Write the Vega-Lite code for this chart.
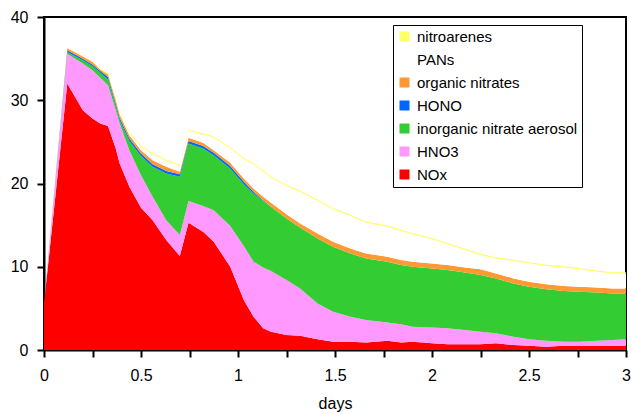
{
"$schema": "https://vega.github.io/schema/vega-lite/v6.json",
"width": 582, "height": 333,
"autosize": {"type": "none"},
"padding": {"left": 44, "top": 17, "right": 5, "bottom": 64},
"config": {"view": {"stroke": "black", "strokeWidth": 2}, "font": "Liberation Sans"},
"data": {"values": [
{"d":0,"s":"NOx","v":5.6},{"d":0,"s":"HNO3","v":0},{"d":0,"s":"inorganic nitrate aerosol","v":0},{"d":0,"s":"HONO","v":0},{"d":0,"s":"organic nitrates","v":0},{"d":0,"s":"PANs","v":0},{"d":0,"s":"nitroarenes","v":0},
{"d":0.12,"s":"NOx","v":32.0},{"d":0.12,"s":"HNO3","v":3.6},{"d":0.12,"s":"inorganic nitrate aerosol","v":0.2},{"d":0.12,"s":"HONO","v":0.2},{"d":0.12,"s":"organic nitrates","v":0.25},{"d":0.12,"s":"PANs","v":0},{"d":0.12,"s":"nitroarenes","v":0.05},
{"d":0.2,"s":"NOx","v":28.8},{"d":0.2,"s":"HNO3","v":5.6},{"d":0.2,"s":"inorganic nitrate aerosol","v":0.4},{"d":0.2,"s":"HONO","v":0.2},{"d":0.2,"s":"organic nitrates","v":0.25},{"d":0.2,"s":"PANs","v":0},{"d":0.2,"s":"nitroarenes","v":0.05},
{"d":0.25,"s":"NOx","v":27.8},{"d":0.25,"s":"HNO3","v":5.8},{"d":0.25,"s":"inorganic nitrate aerosol","v":0.5},{"d":0.25,"s":"HONO","v":0.2},{"d":0.25,"s":"organic nitrates","v":0.3},{"d":0.25,"s":"PANs","v":0},{"d":0.25,"s":"nitroarenes","v":0.05},
{"d":0.29,"s":"NOx","v":27.2},{"d":0.29,"s":"HNO3","v":5.5},{"d":0.29,"s":"inorganic nitrate aerosol","v":0.6},{"d":0.29,"s":"HONO","v":0.2},{"d":0.29,"s":"organic nitrates","v":0.2},{"d":0.29,"s":"PANs","v":0},{"d":0.29,"s":"nitroarenes","v":0.1},
{"d":0.33,"s":"NOx","v":26.9},{"d":0.33,"s":"HNO3","v":4.9},{"d":0.33,"s":"inorganic nitrate aerosol","v":0.7},{"d":0.33,"s":"HONO","v":0.3},{"d":0.33,"s":"organic nitrates","v":0.3},{"d":0.33,"s":"PANs","v":0},{"d":0.33,"s":"nitroarenes","v":0.15},
{"d":0.37,"s":"NOx","v":24.2},{"d":0.37,"s":"HNO3","v":4.6},{"d":0.37,"s":"inorganic nitrate aerosol","v":0.5},{"d":0.37,"s":"HONO","v":0.3},{"d":0.37,"s":"organic nitrates","v":0.4},{"d":0.37,"s":"PANs","v":0},{"d":0.37,"s":"nitroarenes","v":0.15},
{"d":0.39,"s":"NOx","v":22.4},{"d":0.39,"s":"HNO3","v":4.8},{"d":0.39,"s":"inorganic nitrate aerosol","v":0.4},{"d":0.39,"s":"HONO","v":0.3},{"d":0.39,"s":"organic nitrates","v":0.4},{"d":0.39,"s":"PANs","v":0.1},{"d":0.39,"s":"nitroarenes","v":0.15},
{"d":0.44,"s":"NOx","v":19.6},{"d":0.44,"s":"HNO3","v":4.4},{"d":0.44,"s":"inorganic nitrate aerosol","v":1.1},{"d":0.44,"s":"HONO","v":0.3},{"d":0.44,"s":"organic nitrates","v":0.4},{"d":0.44,"s":"PANs","v":0.2},{"d":0.44,"s":"nitroarenes","v":0.15},
{"d":0.5,"s":"NOx","v":17.1},{"d":0.5,"s":"HNO3","v":3.9},{"d":0.5,"s":"inorganic nitrate aerosol","v":2.3},{"d":0.5,"s":"HONO","v":0.3},{"d":0.5,"s":"organic nitrates","v":0.4},{"d":0.5,"s":"PANs","v":0.4},{"d":0.5,"s":"nitroarenes","v":0.15},
{"d":0.56,"s":"NOx","v":15.6},{"d":0.56,"s":"HNO3","v":2.8},{"d":0.56,"s":"inorganic nitrate aerosol","v":3.6},{"d":0.56,"s":"HONO","v":0.3},{"d":0.56,"s":"organic nitrates","v":0.5},{"d":0.56,"s":"PANs","v":0.7},{"d":0.56,"s":"nitroarenes","v":0.15},
{"d":0.63,"s":"NOx","v":13.2},{"d":0.63,"s":"HNO3","v":2.4},{"d":0.63,"s":"inorganic nitrate aerosol","v":5.6},{"d":0.63,"s":"HONO","v":0.3},{"d":0.63,"s":"organic nitrates","v":0.5},{"d":0.63,"s":"PANs","v":0.7},{"d":0.63,"s":"nitroarenes","v":0.15},
{"d":0.7,"s":"NOx","v":11.3},{"d":0.7,"s":"HNO3","v":2.5},{"d":0.7,"s":"inorganic nitrate aerosol","v":7.0},{"d":0.7,"s":"HONO","v":0.3},{"d":0.7,"s":"organic nitrates","v":0.3},{"d":0.7,"s":"PANs","v":0.7},{"d":0.7,"s":"nitroarenes","v":0.15},
{"d":0.745,"s":"NOx","v":15.3},{"d":0.745,"s":"HNO3","v":2.6},{"d":0.745,"s":"inorganic nitrate aerosol","v":6.9},{"d":0.745,"s":"HONO","v":0.3},{"d":0.745,"s":"organic nitrates","v":0.4},{"d":0.745,"s":"PANs","v":0.8},{"d":0.745,"s":"nitroarenes","v":0.15},
{"d":0.82,"s":"NOx","v":14.2},{"d":0.82,"s":"HNO3","v":3.1},{"d":0.82,"s":"inorganic nitrate aerosol","v":6.9},{"d":0.82,"s":"HONO","v":0.3},{"d":0.82,"s":"organic nitrates","v":0.4},{"d":0.82,"s":"PANs","v":1.0},{"d":0.82,"s":"nitroarenes","v":0.15},
{"d":0.875,"s":"NOx","v":13.0},{"d":0.875,"s":"HNO3","v":3.8},{"d":0.875,"s":"inorganic nitrate aerosol","v":6.6},{"d":0.875,"s":"HONO","v":0.3},{"d":0.875,"s":"organic nitrates","v":0.3},{"d":0.875,"s":"PANs","v":1.5},{"d":0.875,"s":"nitroarenes","v":0.15},
{"d":0.96,"s":"NOx","v":10.0},{"d":0.96,"s":"HNO3","v":4.9},{"d":0.96,"s":"inorganic nitrate aerosol","v":6.9},{"d":0.96,"s":"HONO","v":0.3},{"d":0.96,"s":"organic nitrates","v":0.4},{"d":0.96,"s":"PANs","v":1.7},{"d":0.96,"s":"nitroarenes","v":0.15},
{"d":1.03,"s":"NOx","v":6.0},{"d":1.03,"s":"HNO3","v":6.5},{"d":1.03,"s":"inorganic nitrate aerosol","v":7.4},{"d":1.03,"s":"HONO","v":0.3},{"d":1.03,"s":"organic nitrates","v":0.4},{"d":1.03,"s":"PANs","v":2.3},{"d":1.03,"s":"nitroarenes","v":0.15},
{"d":1.08,"s":"NOx","v":4.0},{"d":1.08,"s":"HNO3","v":6.6},{"d":1.08,"s":"inorganic nitrate aerosol","v":8.2},{"d":1.08,"s":"HONO","v":0.2},{"d":1.08,"s":"organic nitrates","v":0.4},{"d":1.08,"s":"PANs","v":2.9},{"d":1.08,"s":"nitroarenes","v":0.15},
{"d":1.13,"s":"NOx","v":2.6},{"d":1.13,"s":"HNO3","v":7.3},{"d":1.13,"s":"inorganic nitrate aerosol","v":8.0},{"d":1.13,"s":"HONO","v":0.1},{"d":1.13,"s":"organic nitrates","v":0.4},{"d":1.13,"s":"PANs","v":3.0},{"d":1.13,"s":"nitroarenes","v":0.15},
{"d":1.17,"s":"NOx","v":2.2},{"d":1.17,"s":"HNO3","v":7.3},{"d":1.17,"s":"inorganic nitrate aerosol","v":7.7},{"d":1.17,"s":"HONO","v":0},{"d":1.17,"s":"organic nitrates","v":0.5},{"d":1.17,"s":"PANs","v":3.0},{"d":1.17,"s":"nitroarenes","v":0.15},
{"d":1.25,"s":"NOx","v":1.8},{"d":1.25,"s":"HNO3","v":6.6},{"d":1.25,"s":"inorganic nitrate aerosol","v":7.4},{"d":1.25,"s":"HONO","v":0},{"d":1.25,"s":"organic nitrates","v":0.5},{"d":1.25,"s":"PANs","v":3.4},{"d":1.25,"s":"nitroarenes","v":0.15},
{"d":1.32,"s":"NOx","v":1.7},{"d":1.32,"s":"HNO3","v":5.7},{"d":1.32,"s":"inorganic nitrate aerosol","v":7.3},{"d":1.32,"s":"HONO","v":0},{"d":1.32,"s":"organic nitrates","v":0.5},{"d":1.32,"s":"PANs","v":3.8},{"d":1.32,"s":"nitroarenes","v":0.15},
{"d":1.41,"s":"NOx","v":1.3},{"d":1.41,"s":"HNO3","v":4.3},{"d":1.41,"s":"inorganic nitrate aerosol","v":7.8},{"d":1.41,"s":"HONO","v":0},{"d":1.41,"s":"organic nitrates","v":0.6},{"d":1.41,"s":"PANs","v":3.9},{"d":1.41,"s":"nitroarenes","v":0.15},
{"d":1.49,"s":"NOx","v":1.0},{"d":1.49,"s":"HNO3","v":3.6},{"d":1.49,"s":"inorganic nitrate aerosol","v":7.8},{"d":1.49,"s":"HONO","v":0},{"d":1.49,"s":"organic nitrates","v":0.6},{"d":1.49,"s":"PANs","v":3.9},{"d":1.49,"s":"nitroarenes","v":0.15},
{"d":1.58,"s":"NOx","v":1.0},{"d":1.58,"s":"HNO3","v":3.0},{"d":1.58,"s":"inorganic nitrate aerosol","v":7.6},{"d":1.58,"s":"HONO","v":0},{"d":1.58,"s":"organic nitrates","v":0.6},{"d":1.58,"s":"PANs","v":3.9},{"d":1.58,"s":"nitroarenes","v":0.15},
{"d":1.66,"s":"NOx","v":0.9},{"d":1.66,"s":"HNO3","v":2.7},{"d":1.66,"s":"inorganic nitrate aerosol","v":7.4},{"d":1.66,"s":"HONO","v":0},{"d":1.66,"s":"organic nitrates","v":0.6},{"d":1.66,"s":"PANs","v":3.7},{"d":1.66,"s":"nitroarenes","v":0.15},
{"d":1.77,"s":"NOx","v":1.1},{"d":1.77,"s":"HNO3","v":2.2},{"d":1.77,"s":"inorganic nitrate aerosol","v":7.3},{"d":1.77,"s":"HONO","v":0},{"d":1.77,"s":"organic nitrates","v":0.6},{"d":1.77,"s":"PANs","v":3.6},{"d":1.77,"s":"nitroarenes","v":0.15},
{"d":1.84,"s":"NOx","v":0.9},{"d":1.84,"s":"HNO3","v":2.2},{"d":1.84,"s":"inorganic nitrate aerosol","v":7.1},{"d":1.84,"s":"HONO","v":0},{"d":1.84,"s":"organic nitrates","v":0.6},{"d":1.84,"s":"PANs","v":3.5},{"d":1.84,"s":"nitroarenes","v":0.15},
{"d":1.9,"s":"NOx","v":1.0},{"d":1.9,"s":"HNO3","v":1.8},{"d":1.9,"s":"inorganic nitrate aerosol","v":7.2},{"d":1.9,"s":"HONO","v":0},{"d":1.9,"s":"organic nitrates","v":0.6},{"d":1.9,"s":"PANs","v":3.3},{"d":1.9,"s":"nitroarenes","v":0.15},
{"d":2.0,"s":"NOx","v":0.8},{"d":2.0,"s":"HNO3","v":1.9},{"d":2.0,"s":"inorganic nitrate aerosol","v":7.1},{"d":2.0,"s":"HONO","v":0},{"d":2.0,"s":"organic nitrates","v":0.6},{"d":2.0,"s":"PANs","v":2.9},{"d":2.0,"s":"nitroarenes","v":0.15},
{"d":2.08,"s":"NOx","v":0.7},{"d":2.08,"s":"HNO3","v":1.9},{"d":2.08,"s":"inorganic nitrate aerosol","v":7.0},{"d":2.08,"s":"HONO","v":0},{"d":2.08,"s":"organic nitrates","v":0.6},{"d":2.08,"s":"PANs","v":2.5},{"d":2.08,"s":"nitroarenes","v":0.15},
{"d":2.17,"s":"NOx","v":0.7},{"d":2.17,"s":"HNO3","v":1.7},{"d":2.17,"s":"inorganic nitrate aerosol","v":6.9},{"d":2.17,"s":"HONO","v":0},{"d":2.17,"s":"organic nitrates","v":0.6},{"d":2.17,"s":"PANs","v":2.1},{"d":2.17,"s":"nitroarenes","v":0.15},
{"d":2.25,"s":"NOx","v":0.7},{"d":2.25,"s":"HNO3","v":1.5},{"d":2.25,"s":"inorganic nitrate aerosol","v":6.8},{"d":2.25,"s":"HONO","v":0},{"d":2.25,"s":"organic nitrates","v":0.7},{"d":2.25,"s":"PANs","v":1.7},{"d":2.25,"s":"nitroarenes","v":0.15},
{"d":2.33,"s":"NOx","v":0.8},{"d":2.33,"s":"HNO3","v":1.2},{"d":2.33,"s":"inorganic nitrate aerosol","v":6.6},{"d":2.33,"s":"HONO","v":0},{"d":2.33,"s":"organic nitrates","v":0.6},{"d":2.33,"s":"PANs","v":1.8},{"d":2.33,"s":"nitroarenes","v":0.15},
{"d":2.42,"s":"NOx","v":0.6},{"d":2.42,"s":"HNO3","v":1.0},{"d":2.42,"s":"inorganic nitrate aerosol","v":6.4},{"d":2.42,"s":"HONO","v":0},{"d":2.42,"s":"organic nitrates","v":0.6},{"d":2.42,"s":"PANs","v":2.1},{"d":2.42,"s":"nitroarenes","v":0.15},
{"d":2.5,"s":"NOx","v":0.5},{"d":2.5,"s":"HNO3","v":0.8},{"d":2.5,"s":"inorganic nitrate aerosol","v":6.3},{"d":2.5,"s":"HONO","v":0},{"d":2.5,"s":"organic nitrates","v":0.6},{"d":2.5,"s":"PANs","v":2.2},{"d":2.5,"s":"nitroarenes","v":0.15},
{"d":2.59,"s":"NOx","v":0.4},{"d":2.59,"s":"HNO3","v":0.7},{"d":2.59,"s":"inorganic nitrate aerosol","v":6.2},{"d":2.59,"s":"HONO","v":0},{"d":2.59,"s":"organic nitrates","v":0.6},{"d":2.59,"s":"PANs","v":2.2},{"d":2.59,"s":"nitroarenes","v":0.15},
{"d":2.68,"s":"NOx","v":0.5},{"d":2.68,"s":"HNO3","v":0.5},{"d":2.68,"s":"inorganic nitrate aerosol","v":6.1},{"d":2.68,"s":"HONO","v":0},{"d":2.68,"s":"organic nitrates","v":0.6},{"d":2.68,"s":"PANs","v":2.2},{"d":2.68,"s":"nitroarenes","v":0.15},
{"d":2.76,"s":"NOx","v":0.5},{"d":2.76,"s":"HNO3","v":0.5},{"d":2.76,"s":"inorganic nitrate aerosol","v":6.0},{"d":2.76,"s":"HONO","v":0},{"d":2.76,"s":"organic nitrates","v":0.6},{"d":2.76,"s":"PANs","v":2.1},{"d":2.76,"s":"nitroarenes","v":0.15},
{"d":2.85,"s":"NOx","v":0.5},{"d":2.85,"s":"HNO3","v":0.6},{"d":2.85,"s":"inorganic nitrate aerosol","v":5.8},{"d":2.85,"s":"HONO","v":0},{"d":2.85,"s":"organic nitrates","v":0.6},{"d":2.85,"s":"PANs","v":1.9},{"d":2.85,"s":"nitroarenes","v":0.15},
{"d":2.93,"s":"NOx","v":0.5},{"d":2.93,"s":"HNO3","v":0.7},{"d":2.93,"s":"inorganic nitrate aerosol","v":5.6},{"d":2.93,"s":"HONO","v":0},{"d":2.93,"s":"organic nitrates","v":0.6},{"d":2.93,"s":"PANs","v":1.8},{"d":2.93,"s":"nitroarenes","v":0.15},
{"d":3.0,"s":"NOx","v":0.5},{"d":3.0,"s":"HNO3","v":0.8},{"d":3.0,"s":"inorganic nitrate aerosol","v":5.5},{"d":3.0,"s":"HONO","v":0},{"d":3.0,"s":"organic nitrates","v":0.6},{"d":3.0,"s":"PANs","v":1.8},{"d":3.0,"s":"nitroarenes","v":0.15}
]},
"transform": [{"calculate": "indexof(['NOx','HNO3','inorganic nitrate aerosol','HONO','organic nitrates','PANs','nitroarenes'], datum.s)", "as": "k"}],
"mark": {"type": "area", "interpolate": "linear"},
"encoding": {
  "x": {"field": "d", "type": "quantitative", "scale": {"domain": [0, 3], "nice": false},
    "axis": {"title": "days", "values": [0,0.25,0.5,0.75,1,1.25,1.5,1.75,2,2.25,2.5,2.75,3],
      "labelExpr": "datum.value % 0.5 == 0 ? format(datum.value, '~g') : ''",
      "grid": false, "domainColor": "black", "domainWidth": 2, "tickColor": "black", "tickWidth": 2, "tickSize": 7,
      "labelFontSize": 16, "labelColor": "black", "labelPadding": 10, "labelFlush": false, "labelOverlap": false,
      "titleFontSize": 16, "titleFontWeight": "normal", "titleColor": "black", "titlePadding": 12}},
  "y": {"field": "v", "type": "quantitative", "stack": "zero", "scale": {"domain": [0, 40], "nice": false},
    "axis": {"title": null, "values": [0,10,20,30,40], "grid": false, "domainColor": "black", "domainWidth": 2,
      "tickColor": "black", "tickWidth": 2, "tickSize": 7, "labelFontSize": 16, "labelColor": "black", "labelPadding": 9}},
  "color": {"field": "s", "type": "nominal",
    "sort": ["nitroarenes","PANs","organic nitrates","HONO","inorganic nitrate aerosol","HNO3","NOx"],
    "scale": {"domain": ["nitroarenes","PANs","organic nitrates","HONO","inorganic nitrate aerosol","HNO3","NOx"],
      "range": ["#FFFF66","#FFFFFF","#FF9933","#0066FF","#33CC33","#FF99FF","#FF0000"]},
    "legend": {"title": null, "orient": "none", "legendX": 349, "legendY": 8, "symbolType": "square", "symbolSize": 100,
      "symbolStrokeWidth": 0, "labelFontSize": 15, "labelColor": "black", "labelOffset": 5, "rowPadding": 7,
      "padding": 4, "strokeColor": "black", "fillColor": "white", "labelLimit": 300}},
  "order": {"field": "k", "type": "quantitative", "sort": "ascending"}
}
}
